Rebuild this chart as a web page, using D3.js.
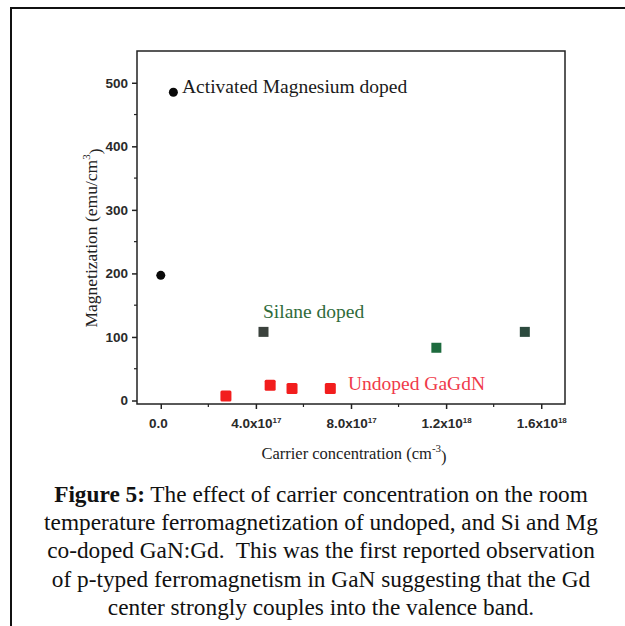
<!DOCTYPE html>
<html>
<head>
<script src="https://d3js.org/d3.v7.min.js"></script>
<style>
  body { margin: 0; background: #fff; }
  svg text { font-family: "Liberation Serif", "Times New Roman", serif; }
  .tick text { font-family: "Liberation Sans", Arial, sans-serif; font-weight: bold; font-size: 13.5px; fill: #2a2a2a; }
</style>
</head>
<body>
<svg id="fig" width="625" height="626"></svg>
<script>
// carrier concentration (cm^-3) and magnetization (emu/cm^3)
var mgConc = [0, 5.3e16];
var mgMag = [197, 485];
var siConc = [4.32e17, 1.159e18, 1.531e18];
var siMag = [108, 83, 108];
var undopedConc = [2.74e17, 4.6e17, 5.52e17, 7.13e17];
var undopedMag = [7, 24, 19, 19];

var xTicks = [0, 4e17, 8e17, 1.2e18, 1.6e18];
var xTickMant = ["0.0", "4.0", "8.0", "1.2", "1.6"];
var xTickExp = ["", "17", "17", "18", "18"];
var yTicks = [0, 100, 200, 300, 400, 500];

var captionLines = [
  [["Figure 5:", true], [" The effect of carrier concentration on the room", false]],
  [["temperature ferromagnetization of undoped, and Si and Mg", false]],
  [["co-doped GaN:Gd.  This was the first reported observation", false]],
  [["of p-typed ferromagnetism in GaN suggesting that the Gd", false]],
  [["center strongly couples into the valence band.", false]]
];

var siFill = ["#3b423d", "#1d6b3e", "#2c4a3e"];

var svg = d3.select("#fig");

// page frame
svg.append("line").attr("x1", 10).attr("x2", 625).attr("y1", 8).attr("y2", 8)
  .attr("stroke", "#111").attr("stroke-width", 2);
svg.append("line").attr("x1", 11).attr("x2", 11).attr("y1", 8).attr("y2", 626)
  .attr("stroke", "#111").attr("stroke-width", 2);

var plot = { left: 137, right: 565, top: 51, bottom: 404 };

var x = d3.scaleLinear().domain([-1e17, 1.7e18]).range([plot.left, plot.right]);
var y = d3.scaleLinear().domain([-5.5, 550]).range([plot.bottom, plot.top]);

svg.append("rect")
  .attr("x", plot.left).attr("y", plot.top)
  .attr("width", plot.right - plot.left).attr("height", plot.bottom - plot.top)
  .attr("fill", "none").attr("stroke", "#222").attr("stroke-width", 1.5);

// minor ticks
var gMinor = svg.append("g").attr("stroke", "#222").attr("stroke-width", 1.2);
d3.range(0, 1.7e18, 2e17).forEach(function(v) {
  if (xTicks.indexOf(v) >= 0) return;
  gMinor.append("line").attr("x1", x(v)).attr("x2", x(v))
    .attr("y1", plot.bottom).attr("y2", plot.bottom + 3);
});
d3.range(50, 550, 100).forEach(function(v) {
  gMinor.append("line").attr("y1", y(v)).attr("y2", y(v))
    .attr("x1", plot.left).attr("x2", plot.left - 3);
});

var xAxis = svg.append("g")
  .attr("transform", "translate(0," + plot.bottom + ")")
  .call(d3.axisBottom(x).tickValues(xTicks).tickSize(5).tickFormat(""));
xAxis.select(".domain").remove();
xAxis.selectAll(".tick line").attr("stroke", "#222").attr("stroke-width", 1.5);
xAxis.selectAll(".tick text").each(function(d, i) {
  var t = d3.select(this);
  if (xTickExp[i] === "") {
    t.text(xTickMant[i]);
  } else {
    t.append("tspan").text(xTickMant[i] + "x10");
    t.append("tspan").attr("dy", "-0.6em").attr("font-size", "8px").text(xTickExp[i]);
  }
}).attr("dx", function(d, i) { return xTickExp[i] ? "0" : "-3px"; })
  .attr("y", 14);

var yAxis = svg.append("g")
  .attr("transform", "translate(" + plot.left + ",0)")
  .call(d3.axisLeft(y).tickValues(yTicks).tickSize(5).tickPadding(4));
yAxis.select(".domain").remove();
yAxis.selectAll(".tick line").attr("stroke", "#222").attr("stroke-width", 1.5);

// axis titles
var xTitle = svg.append("text").attr("x", 354).attr("y", 459)
  .attr("text-anchor", "middle").attr("font-size", "16.5px").attr("fill", "#222");
xTitle.append("tspan").text("Carrier concentration (cm");
xTitle.append("tspan").attr("dy", "-0.6em").attr("font-size", "11px").text("-3");
xTitle.append("tspan").attr("dy", "0.6em").text(")");

var yTitle = svg.append("text")
  .attr("transform", "translate(97,238) rotate(-90)")
  .attr("text-anchor", "middle").attr("font-size", "17.5px").attr("fill", "#222");
yTitle.append("tspan").text("Magnetization (emu/cm");
yTitle.append("tspan").attr("dy", "-0.6em").attr("font-size", "11px").text("3");
yTitle.append("tspan").attr("dy", "0.6em").text(")");

// marks
svg.append("g").selectAll("circle")
  .data(d3.zip(mgConc, mgMag)).join("circle")
  .attr("cx", function(d) { return x(d[0]); })
  .attr("cy", function(d) { return y(d[1]); })
  .attr("r", 4.5).attr("fill", "#0a0a0a");

var sq = 10;
svg.append("g").selectAll("rect")
  .data(d3.zip(siConc, siMag)).join("rect")
  .attr("x", function(d) { return x(d[0]) - sq / 2; })
  .attr("y", function(d) { return y(d[1]) - sq / 2; })
  .attr("width", sq).attr("height", sq)
  .attr("fill", function(d, i) { return siFill[i]; });

svg.append("g").selectAll("rect")
  .data(d3.zip(undopedConc, undopedMag)).join("rect")
  .attr("x", function(d) { return x(d[0]) - (sq + 1) / 2; })
  .attr("y", function(d) { return y(d[1]) - (sq + 1) / 2; })
  .attr("width", sq + 1).attr("height", sq + 1).attr("rx", 1.5)
  .attr("fill", "#f21d1d");

// series labels
svg.append("text").attr("x", 182).attr("y", 93).attr("font-size", "19.5px")
  .attr("fill", "#1a1a1a").text("Activated Magnesium doped");
svg.append("text").attr("x", 263).attr("y", 318).attr("font-size", "19.5px")
  .attr("fill", "#2f6b3a").text("Silane doped");
svg.append("text").attr("x", 348).attr("y", 390).attr("font-size", "19.5px")
  .attr("fill", "#f03a4a").text("Undoped GaGdN");

// caption
var cap = svg.append("g").attr("font-size", "23.3px").attr("fill", "#111");
captionLines.forEach(function(line, i) {
  var t = cap.append("text").attr("x", 321).attr("y", 502 + i * 28.2)
    .attr("text-anchor", "middle");
  line.forEach(function(part) {
    t.append("tspan").attr("font-weight", part[1] ? "bold" : "normal")
      .attr("xml:space", "preserve").text(part[0]);
  });
});
</script>
</body>
</html>
